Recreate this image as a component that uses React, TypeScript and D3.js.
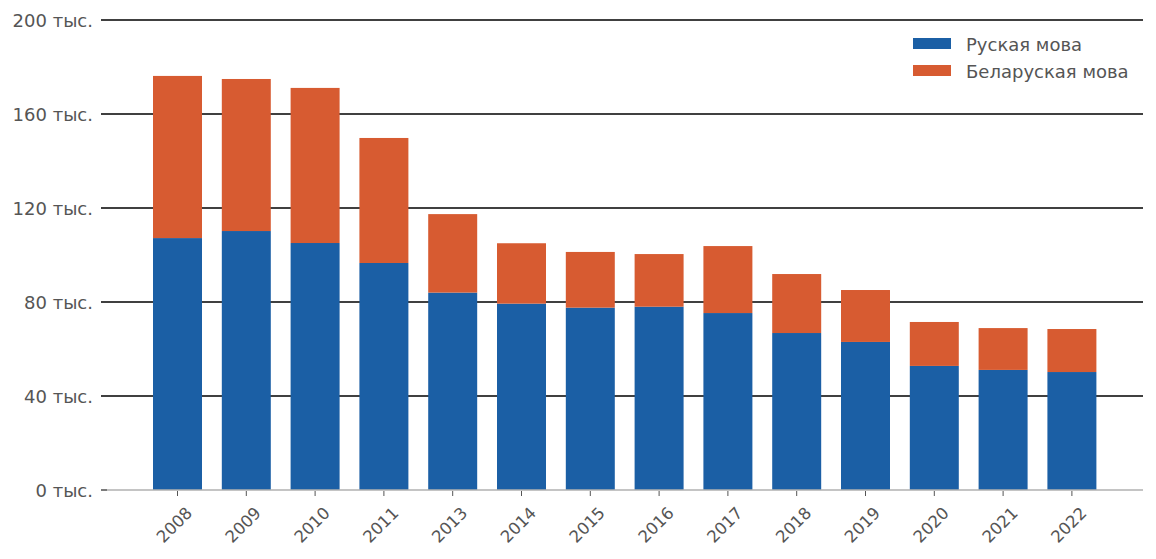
import React from "react";
import * as d3 from "d3";

const years = ["2008","2009","2010","2011","2013","2014","2015","2016","2017","2018","2019","2020","2021","2022"];
const russian = [107.2,110.2,105.1,96.6,84.0,79.3,77.6,78.0,75.3,66.8,63.0,52.8,51.1,50.2];
const belarusian = [69.0,64.7,66.0,53.2,33.4,25.7,23.7,22.4,28.5,25.1,22.1,18.7,17.8,18.3];
const yTicks = [0,40,80,120,160,200];
const seriesNames = ["Руская мова","Беларуская мова"];
const seriesColors = ["#1b5fa5","#d75b31"];

const W = 1156, H = 559;
const FONT = "DejaVu Sans, sans-serif";

export default function App() {
  const y = d3.scaleLinear().domain([0, 200]).range([490, 20]);
  const step = 68.8;
  const x = d3.scaleBand<string>().domain(years)
    .range([177.5 - step / 2, 177.5 - step / 2 + step * years.length])
    .paddingInner(0.288).paddingOuter(0.144);
  const rows = years.map((yr, i) => ({ year: yr, r: russian[i], b: belarusian[i] }));
  const stack = d3.stack<any>().keys(["r", "b"])(rows);
  const left = 101, right = 1143;

  return (
    <div style={{ position: "absolute", left: 0, top: 0 }}>
      <svg width={W} height={H} style={{ display: "block", fontFamily: FONT }}>
        <rect width={W} height={H} fill="#fff" />
        {yTicks.filter(t => t > 0).map(t => (
          <line key={t} x1={left} x2={right} y1={y(t)} y2={y(t)} stroke="#000" strokeWidth={1.3} />
        ))}
        {stack.map((s, si) => (
          <g key={si} fill={seriesColors[si]}>
            {s.map((d, i) => (
              <rect key={i} x={x(years[i])} width={x.bandwidth()} y={y(d[1])} height={y(d[0]) - y(d[1])} />
            ))}
          </g>
        ))}
        <line x1={107} x2={right} y1={y(0)} y2={y(0)} stroke="#b0b0b0" strokeWidth={1.3} />
        <line x1={left} x2={107} y1={y(0)} y2={y(0)} stroke="#333" strokeWidth={1.3} />
        {yTicks.map(t => (
          <text key={t} x={93} y={y(t)} textAnchor="end" dominantBaseline="central" fontSize={18} fill="#555">
            {`${t} тыс.`}
          </text>
        ))}
        {years.map(yr => {
          const cx = (x(yr) as number) + x.bandwidth() / 2;
          return (
            <g key={yr}>
              <line x1={cx} x2={cx} y1={491} y2={496} stroke="#555" strokeWidth={1} />
              <text transform={`translate(${cx - 3},525) rotate(-45)`} textAnchor="middle" dominantBaseline="central" fontSize={16.5} fill="#555">
                {yr}
              </text>
            </g>
          );
        })}
        {seriesNames.map((n, i) => (
          <g key={n} transform={`translate(913,${38 + i * 27})`}>
            <rect width={38} height={11} fill={seriesColors[i]} />
            <text x={53} y={6} dominantBaseline="central" fontSize={18} fill="#555">{n}</text>
          </g>
        ))}
      </svg>
    </div>
  );
}
